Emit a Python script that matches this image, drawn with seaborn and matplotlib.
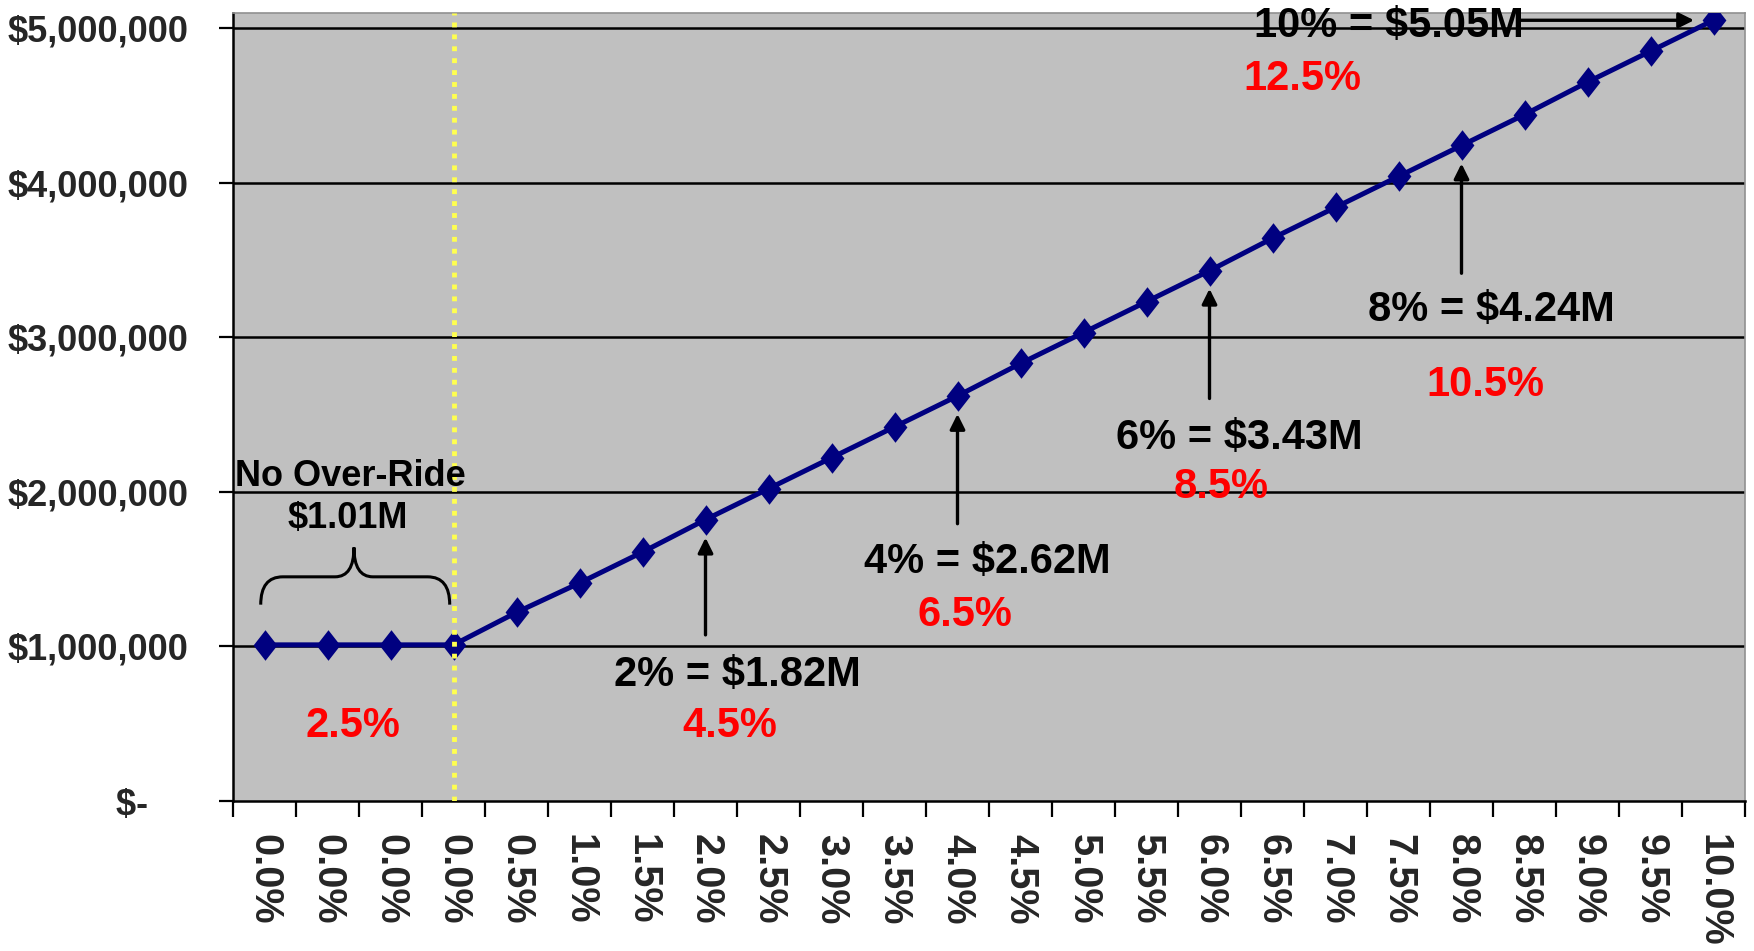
import numpy as np
import pandas as pd
import matplotlib
matplotlib.use("Agg")
import matplotlib.pyplot as plt
from matplotlib.path import Path
from matplotlib.patches import PathPatch
from matplotlib.ticker import FuncFormatter, FixedLocator
import seaborn as sns

# ---- data ----
categories = ["0.0%", "0.0%", "0.0%", "0.0%", "0.5%", "1.0%", "1.5%", "2.0%",
              "2.5%", "3.0%", "3.5%", "4.0%", "4.5%", "5.0%", "5.5%", "6.0%",
              "6.5%", "7.0%", "7.5%", "8.0%", "8.5%", "9.0%", "9.5%", "10.0%"]
values = [1.01e6, 1.01e6, 1.01e6, 1.01e6, 1.22e6, 1.41e6, 1.61e6, 1.82e6,
          2.02e6, 2.22e6, 2.42e6, 2.62e6, 2.83e6, 3.03e6, 3.23e6, 3.43e6,
          3.64e6, 3.84e6, 4.04e6, 4.24e6, 4.44e6, 4.65e6, 4.85e6, 5.05e6]
y_ticks = [0, 1e6, 2e6, 3e6, 4e6, 5e6]

# annotations: (category index, label, red label)
arrow_notes = [(7, "2% = $1.82M", "4.5%"),
               (11, "4% = $2.62M", "6.5%"),
               (15, "6% = $3.43M", "8.5%"),
               (19, "8% = $4.24M", "10.5%")]
top_note = (23, "10% = $5.05M", "12.5%")
flat_note = ("No Over-Ride", "$1.01M", "2.5%")

df = pd.DataFrame({"pos": np.arange(len(categories)), "value": values})

sns.set_style("white")
plt.rcParams["font.family"] = ["Liberation Sans", "DejaVu Sans"]
plt.rcParams["font.weight"] = "bold"

W, H = 1754, 951
fig = plt.figure(figsize=(W / 100, H / 100), dpi=100)
ax = fig.add_axes([233 / W, 1 - 801 / H, (1745 - 233) / W, (801 - 13) / H])
ax.set_facecolor("#C0C0C0")

# gridlines
for yt in y_ticks[1:]:
    ax.axhline(yt, color="black", lw=1.8, zorder=1)

diamond = [(0, 1), (0.78, 0), (0, -1), (-0.78, 0), (0, 1)]
sns.lineplot(data=df, x="pos", y="value", ax=ax, color="#000080", lw=3.6,
             marker=diamond, markersize=22, markeredgewidth=0,
             markerfacecolor="#000080", zorder=3, legend=False)

# yellow dotted line at end of the no-override region
ax.axvline(3, color="#FFFF50", lw=3.5, linestyle=(0, (1.0, 1.45)), zorder=4)

n = len(categories)
ax.set_xlim(-0.5, n - 0.5)
ax.set_ylim(0, 5.097e6)

# x axis: ticks between categories, labels at centres
ax.xaxis.set_major_locator(FixedLocator(np.arange(-0.5, n, 1.0)))
ax.xaxis.set_minor_locator(FixedLocator(np.arange(n)))
ax.set_xticklabels([""] * (n + 1))
ax.set_xticklabels(categories, minor=True, rotation=270, fontsize=28.5,
                   fontweight="bold")
ax.tick_params(axis="x", which="major", length=11.5, width=1.6,
               direction="out", color="black", bottom=True)
ax.tick_params(axis="x", which="minor", length=0, pad=24, bottom=True)

ax.set_yticks(y_ticks)
ax.yaxis.set_major_formatter(FuncFormatter(
    lambda v, p: "$-    " if v == 0 else "${:,.0f}".format(v)))
ax.tick_params(axis="y", length=10, width=1.6, direction="out",
               color="black", pad=22, labelsize=26, left=True)
for lab in ax.get_yticklabels():
    lab.set_fontweight("bold")

ax.set_xlabel("")
ax.set_ylabel("")
for s in ["left", "bottom"]:
    ax.spines[s].set_color("black")
    ax.spines[s].set_linewidth(1.8)
for s in ["top", "right"]:
    ax.spines[s].set_color("#909090")
    ax.spines[s].set_linewidth(1.2)

fs_note = 30
# arrows pointing up at points
for idx, lab, red in arrow_notes:
    v = values[idx]
    tail_off = -83 if idx == 7 else -92
    ax.annotate("", xy=(idx, v), xytext=(0, tail_off), textcoords="offset points",
                arrowprops=dict(arrowstyle="-|>,head_length=0.9,head_width=0.45",
                                lw=2.4, color="black", shrinkA=0, shrinkB=13),
                zorder=5)

text_pos = {7: ((7.50, 0.847e6), (7.39, 0.511e6)),
            11: ((11.48, 1.572e6), (11.12, 1.235e6)),
            15: ((15.47, 2.380e6), (15.19, 2.057e6)),
            19: ((19.48, 3.208e6), (19.38, 2.723e6))}
for idx, lab, red in arrow_notes:
    (bx, by), (rx, ry) = text_pos[idx]
    ax.text(bx, by, lab, ha="center", va="center_baseline", fontsize=fs_note,
            fontweight="bold", color="black", zorder=6)
    ax.text(rx, ry, red, ha="center", va="center_baseline", fontsize=fs_note,
            fontweight="bold", color="#FF0000", zorder=6)

# top note with horizontal arrow
ti, tlab, tred = top_note
ax.text(17.85, 5.045e6, tlab, ha="center", va="center_baseline", fontsize=fs_note,
        fontweight="bold", color="black", zorder=6)
ax.text(16.48, 4.696e6, tred, ha="center", va="center_baseline", fontsize=fs_note,
        fontweight="bold", color="#FF0000", zorder=6)
ax.annotate("", xy=(ti, values[ti]), xytext=(-139, 0), textcoords="offset points",
            arrowprops=dict(arrowstyle="-|>,head_length=0.9,head_width=0.45",
                            lw=2.4, color="black", shrinkA=0, shrinkB=14),
            zorder=5)

# no-override note with brace
l1, l2, lred = flat_note
ax.text(1.357, 2.128e6, l1, ha="center", va="center_baseline", fontsize=26,
        fontweight="bold", color="black", zorder=6)
ax.text(1.325, 1.856e6, l2, ha="center", va="center_baseline", fontsize=26,
        fontweight="bold", color="black", zorder=6)
ax.text(1.405, 0.514e6, lred, ha="center", va="center_baseline", fontsize=fs_note,
        fontweight="bold", color="#FF0000", zorder=6)

x0, x1, xm = -0.06, 2.94, 1.42
yb, yh, yp = 1.27e6, 1.45e6, 1.64e6
verts = [(x0, yb), (x0, yh), (x0 + 0.35, yh), (xm - 0.3, yh),
         (xm, yh), (xm, yp), (xm, yh), (xm + 0.3, yh),
         (x1 - 0.35, yh), (x1, yh), (x1, yb)]
codes = [Path.MOVETO, Path.CURVE3, Path.CURVE3, Path.LINETO,
         Path.CURVE3, Path.CURVE3, Path.CURVE3, Path.CURVE3,
         Path.LINETO, Path.CURVE3, Path.CURVE3]
ax.add_patch(PathPatch(Path(verts, codes), fill=False, lw=2.2,
                       edgecolor="black", zorder=5))

fig.savefig("out.png", dpi=100, facecolor="white")
